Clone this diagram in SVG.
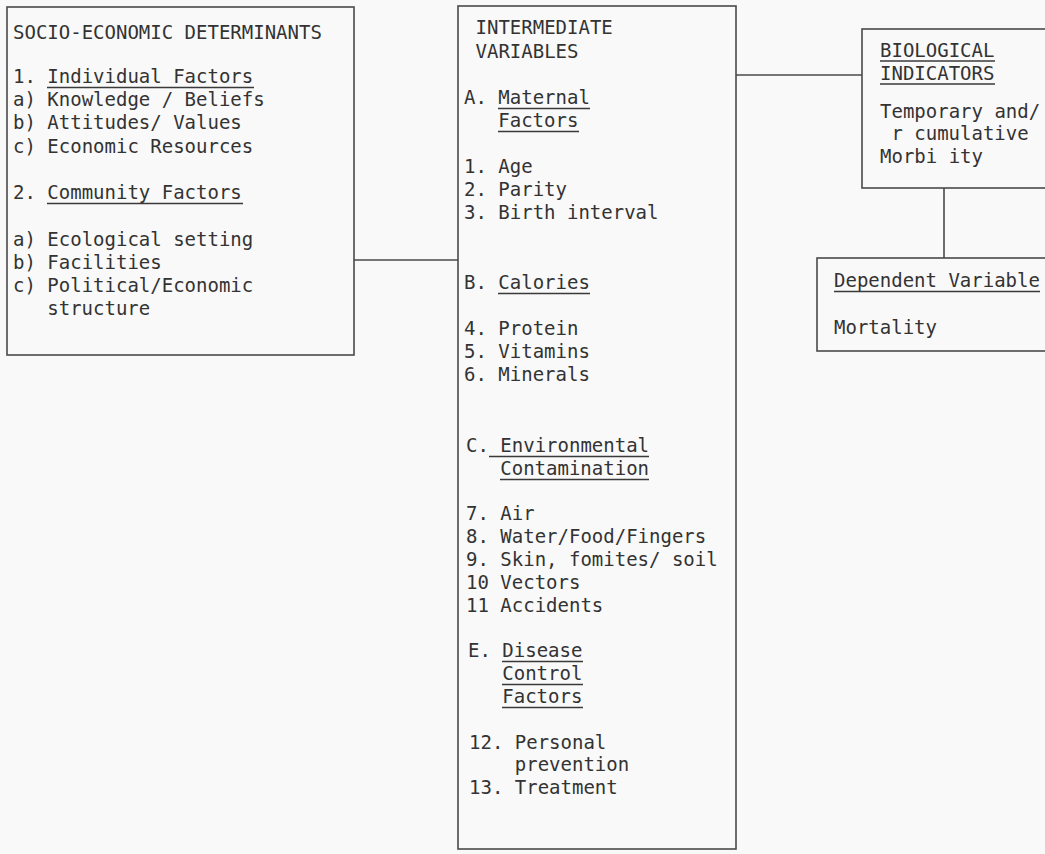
<svg xmlns="http://www.w3.org/2000/svg" width="1045" height="854" viewBox="0 0 1045 854">
<style>
.box{fill:none;stroke:#4a4a4a;stroke-width:1.6}
.conn{fill:none;stroke:#4a4a4a;stroke-width:1.6}
.ul{stroke:#3a3a3a;stroke-width:1.6}
text{font-family:"DejaVu Sans Mono","Liberation Mono",monospace;font-size:19px;fill:#333}
</style>
<rect width="1045" height="854" fill="#f9f9f9"/>
<g id="connectors">
<line class="conn" x1="354" y1="260" x2="458" y2="260"/>
<line class="conn" x1="736" y1="75" x2="862" y2="75"/>
<line class="conn" x1="944" y1="188" x2="944" y2="258"/>
</g>
<g id="socio-economic">
<rect class="box" x="7" y="7" width="347" height="348"/>
<text x="13" y="39">SOCIO-ECONOMIC DETERMINANTS</text>
<text x="13" y="83">1. Individual Factors</text>
<line class="ul" x1="47" y1="87.5" x2="254" y2="87.5"/>
<text x="13" y="106">a) Knowledge / Beliefs</text>
<text x="13" y="129">b) Attitudes/ Values</text>
<text x="13" y="153">c) Economic Resources</text>
<text x="13" y="199">2. Community Factors</text>
<line class="ul" x1="47" y1="203.5" x2="243" y2="203.5"/>
<text x="13" y="246">a) Ecological setting</text>
<text x="13" y="269">b) Facilities</text>
<text x="13" y="292">c) Political/Economic</text>
<text x="47.3" y="315">structure</text>
</g>
<g id="intermediate">
<rect class="box" x="458" y="6" width="278" height="843"/>
<text x="475.5" y="34">INTERMEDIATE</text>
<text x="475.5" y="58">VARIABLES</text>
<text x="464" y="104">A. Maternal</text>
<line class="ul" x1="498" y1="108.5" x2="590" y2="108.5"/>
<text x="498.3" y="127">Factors</text>
<line class="ul" x1="498" y1="131.5" x2="579" y2="131.5"/>
<text x="464" y="173">1. Age</text>
<text x="464" y="196">2. Parity</text>
<text x="464" y="219">3. Birth interval</text>
<text x="464" y="289">B. Calories</text>
<line class="ul" x1="498" y1="293.5" x2="590" y2="293.5"/>
<text x="464" y="335">4. Protein</text>
<text x="464" y="358">5. Vitamins</text>
<text x="464" y="381">6. Minerals</text>
<text x="466" y="452">C. Environmental</text>
<line class="ul" x1="489" y1="456.5" x2="649" y2="456.5"/>
<text x="500.3" y="475">Contamination</text>
<line class="ul" x1="500" y1="479.5" x2="649" y2="479.5"/>
<text x="466" y="520">7. Air</text>
<text x="466" y="543">8. Water/Food/Fingers</text>
<text x="466" y="566">9. Skin, fomites/ soil</text>
<text x="466" y="589">10 Vectors</text>
<text x="466" y="612">11 Accidents</text>
<text x="468" y="657">E. Disease</text>
<line class="ul" x1="502" y1="661.5" x2="583" y2="661.5"/>
<text x="502.3" y="680">Control</text>
<line class="ul" x1="502" y1="684.5" x2="583" y2="684.5"/>
<text x="502.3" y="703">Factors</text>
<line class="ul" x1="502" y1="707.5" x2="583" y2="707.5"/>
<text x="469" y="749">12. Personal</text>
<text x="514.8" y="771">prevention</text>
<text x="469" y="794">13. Treatment</text>
</g>
<g id="biological">
<rect class="box" x="862" y="29" width="200" height="159"/>
<text x="880" y="57">BIOLOGICAL</text>
<line class="ul" x1="880" y1="61" x2="995" y2="61"/>
<text x="880" y="80">INDICATORS</text>
<line class="ul" x1="880" y1="84" x2="995" y2="84"/>
<text x="880" y="118">Temporary and/</text>
<text x="891.4" y="140">r cumulative</text>
<text x="880" y="163">Morbi ity</text>
</g>
<g id="dependent">
<rect class="box" x="817" y="258" width="250" height="93"/>
<text x="834" y="287">Dependent Variable</text>
<line class="ul" x1="834" y1="291.5" x2="1040" y2="291.5"/>
<text x="834" y="334">Mortality</text>
</g>
</svg>
